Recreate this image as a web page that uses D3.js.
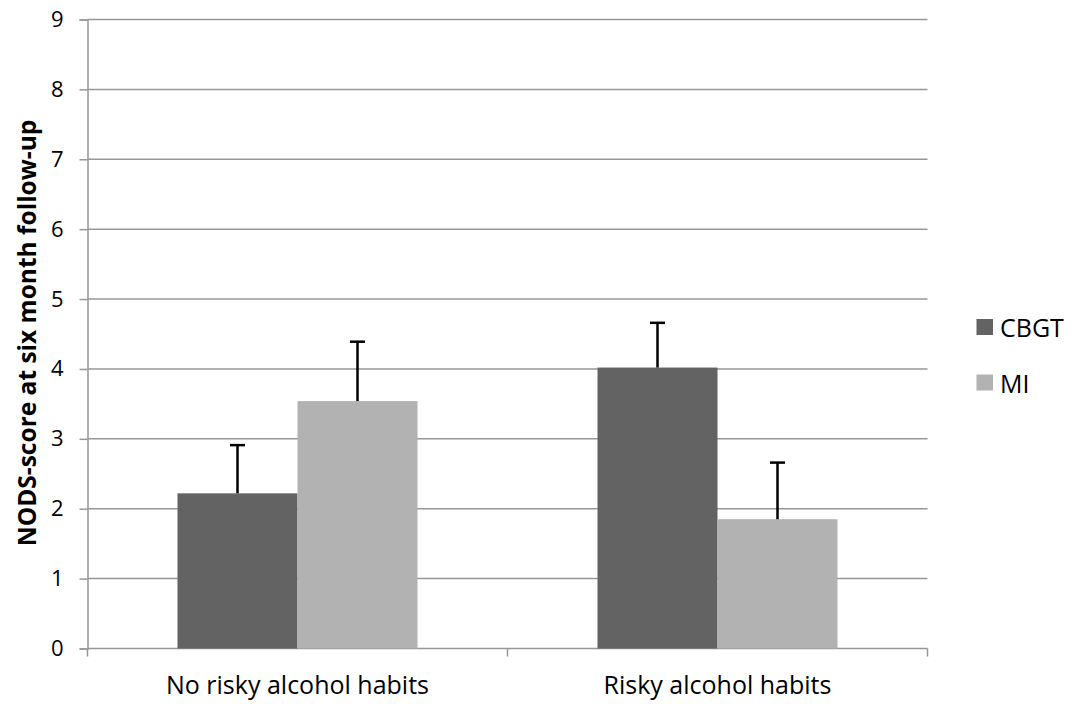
<!DOCTYPE html>
<html>
<head>
<meta charset="utf-8">
<script src="https://cdn.jsdelivr.net/npm/d3@7"></script>
<style>
  html, body { margin: 0; padding: 0; background: #fff; }
  svg { display: block; font-family: "Open Sans", Lato, sans-serif; }
</style>
</head>
<body>
<svg id="chart" width="1078" height="704"></svg>
<script>
// NODS-score at six month follow-up, by alcohol habits and treatment
const categories = ["No risky alcohol habits", "Risky alcohol habits"];
const seriesNames = ["CBGT", "MI"];
const cbgtMeans = [2.22, 4.02];
const miMeans = [3.54, 1.85];
const cbgtErr = [0.69, 0.64];
const miErr = [0.85, 0.81];
const yTicks = [0, 1, 2, 3, 4, 5, 6, 7, 8, 9];

const colors = { CBGT: "#636363", MI: "#b2b2b2" };
const gridColor = "#979797";

const rows = categories.map((c, i) => ({
  category: c,
  bars: [
    { series: "CBGT", value: cbgtMeans[i], err: cbgtErr[i] },
    { series: "MI", value: miMeans[i], err: miErr[i] }
  ]
}));

const svg = d3.select("#chart");
const x0 = 87.5, x1 = 927.5;
const yTop = 19.5, yBot = 648.5;

const x = d3.scaleBand().domain(categories).range([x0, x1]).paddingInner(0).paddingOuter(0);
// two bars per category, with a 75% gap split on both sides
const xs = d3.scaleBand().domain(seriesNames).range([0, x.bandwidth()]).paddingInner(0).paddingOuter(0.75);
const y = d3.scaleLinear().domain([0, 9]).range([yBot, yTop]);

// horizontal gridlines
svg.append("g")
  .selectAll("line")
  .data(yTicks.filter(t => t > 0))
  .join("line")
  .attr("x1", x0).attr("x2", x1)
  .attr("y1", d => y(d)).attr("y2", d => y(d))
  .attr("stroke", gridColor).attr("stroke-width", 1.5);

// y axis
const yAxis = d3.axisLeft(y).tickValues(yTicks).tickSize(8).tickPadding(16).tickFormat(d3.format("d"));
const gy = svg.append("g").attr("transform", `translate(${x0},0)`).call(yAxis);
gy.select(".domain").attr("stroke", gridColor).attr("stroke-width", 1.5);
gy.selectAll(".tick line").attr("stroke", gridColor).attr("stroke-width", 1.5);
gy.selectAll(".tick text").attr("font-size", 22).attr("fill", "#000")
  .attr("font-family", "'Open Sans', Lato, sans-serif");

// x axis with ticks at category boundaries
const gx = svg.append("g").attr("transform", `translate(0,${yBot})`);
gx.append("line").attr("x1", x0).attr("x2", x1).attr("y1", 0).attr("y2", 0)
  .attr("stroke", gridColor).attr("stroke-width", 1.5);
const bounds = [x0].concat(categories.map(c => x(c) + x.bandwidth()));
gx.selectAll("line.tk").data(bounds).join("line").attr("class", "tk")
  .attr("x1", d => d).attr("x2", d => d).attr("y1", 0).attr("y2", 8)
  .attr("stroke", gridColor).attr("stroke-width", 1.5);
gx.selectAll("text").data(categories).join("text")
  .attr("x", d => x(d) + x.bandwidth() / 2)
  .attr("y", 45.5)
  .attr("text-anchor", "middle")
  .attr("font-size", 25)
  .attr("fill", "#000")
  .text(d => d);

// bars
const groups = svg.append("g").selectAll("g").data(rows).join("g")
  .attr("transform", d => `translate(${x(d.category)},0)`);

groups.selectAll("rect").data(d => d.bars).join("rect")
  .attr("x", d => xs(d.series))
  .attr("width", xs.bandwidth())
  .attr("y", d => y(d.value))
  .attr("height", d => y(0) - y(d.value))
  .attr("fill", d => colors[d.series]);

// error bars (upper only)
const eb = groups.selectAll("g.err").data(d => d.bars).join("g").attr("class", "err");
eb.append("line")
  .attr("x1", d => xs(d.series) + xs.bandwidth() / 2)
  .attr("x2", d => xs(d.series) + xs.bandwidth() / 2)
  .attr("y1", d => y(d.value))
  .attr("y2", d => y(d.value + d.err))
  .attr("stroke", "#000").attr("stroke-width", 2.5);
eb.append("line")
  .attr("x1", d => xs(d.series) + xs.bandwidth() / 2 - 7.5)
  .attr("x2", d => xs(d.series) + xs.bandwidth() / 2 + 7.5)
  .attr("y1", d => y(d.value + d.err))
  .attr("y2", d => y(d.value + d.err))
  .attr("stroke", "#000").attr("stroke-width", 2.5);

// y axis title
svg.append("text")
  .attr("transform", `translate(36,333) rotate(-90)`)
  .attr("text-anchor", "middle")
  .attr("font-size", 24.5)
  .attr("font-weight", "bold")
  .attr("fill", "#000")
  .text("NODS-score at six month follow-up");

// legend
const legend = svg.append("g").selectAll("g").data(seriesNames).join("g")
  .attr("transform", (d, i) => `translate(976.5,${319 + i * 55.5})`);
legend.append("rect").attr("width", 16.5).attr("height", 16).attr("fill", d => colors[d]);
legend.append("text").attr("x", 23.5).attr("y", 18).attr("font-size", 25).attr("fill", "#000").text(d => d);
</script>
</body>
</html>
